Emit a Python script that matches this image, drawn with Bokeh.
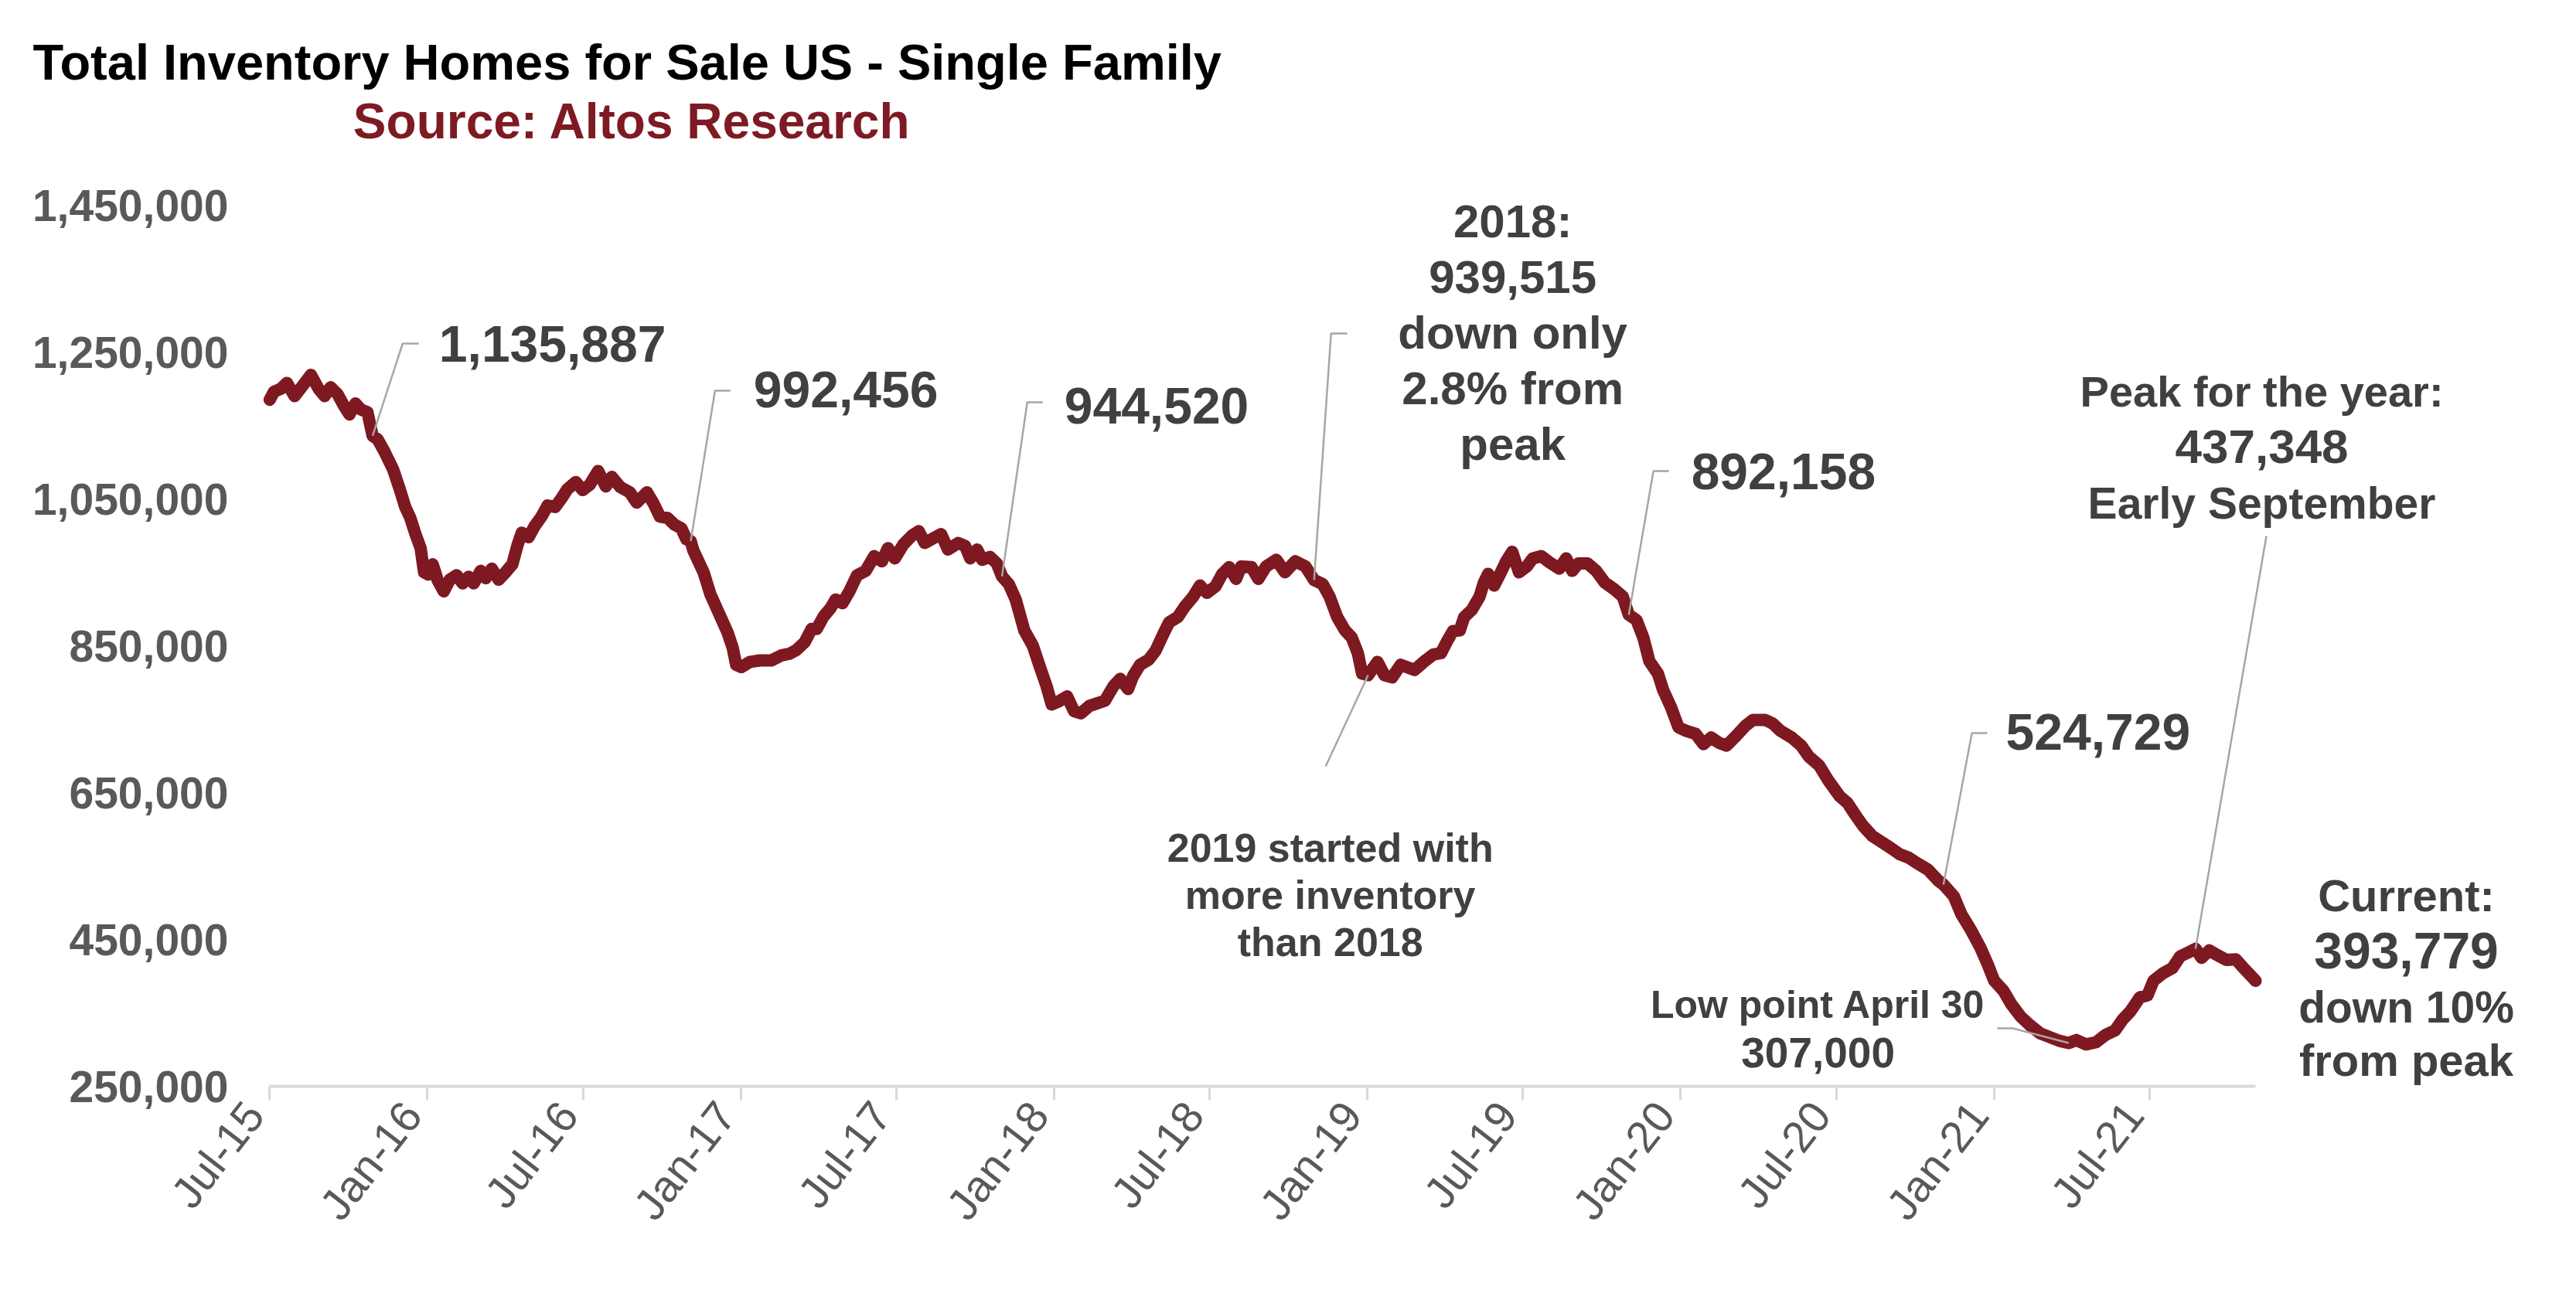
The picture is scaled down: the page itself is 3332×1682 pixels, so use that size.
import numpy as np
import pandas as pd
from bokeh.plotting import figure
from bokeh.models import Range1d, FixedTicker, NumeralTickFormatter, Label, InlineStyleSheet
from bokeh.embed import file_html
from bokeh.resources import INLINE

# ---------------- data ----------------
start_date = "2015-07-01"
end_date = "2021-11-02"

days_since_start = [
    0, 5, 13, 20, 29, 37, 48, 57, 64, 71, 79, 87, 93, 100, 106, 114, 120, 126, 134, 144,
    152, 158, 164, 170, 176, 180, 185, 190, 196, 203, 210, 218, 225, 232, 238, 246, 252, 259, 267, 275,
    283, 289, 294, 302, 309, 317, 324, 333, 341, 347, 357, 365, 373, 383, 392, 399, 409, 420, 428, 440,
    448, 455, 464, 472, 480, 486, 491, 494, 506, 514, 524, 534, 540, 544, 550, 560, 572, 585, 597,
    606, 614, 624, 632, 638, 646, 654, 660, 668, 676, 685, 695, 705, 714, 721, 729, 739, 749, 757, 764,
    775, 783, 791, 803, 811, 817, 825, 831, 840, 848, 854, 862, 870, 880, 890, 898, 906, 912, 920, 930,
    938, 946, 956, 966, 974, 984, 992, 1001, 1007, 1015, 1025, 1033, 1043, 1049, 1059, 1067, 1077, 1085, 1093,
    1103, 1111, 1119, 1127, 1133, 1145, 1153, 1162, 1174, 1184, 1196, 1208,
    1218, 1228, 1236, 1245, 1254, 1262, 1269, 1274, 1281, 1292, 1300, 1309, 1319, 1335, 1347, 1357, 1366,
    1373, 1380, 1388, 1393, 1402, 1411, 1416, 1421, 1428, 1435, 1442, 1449, 1457, 1466, 1473, 1483, 1492,
    1504, 1512, 1519, 1526, 1537, 1547, 1557, 1568, 1578, 1585, 1594, 1602, 1609, 1619,
    1625, 1634, 1643, 1652, 1663, 1672, 1681, 1690, 1699, 1710, 1721, 1730, 1744, 1753, 1762, 1775, 1786,
    1795, 1807, 1818, 1831, 1840, 1849, 1858, 1869, 1878, 1890, 1901, 1912, 1921, 1934, 1946, 1952, 1964,
    1973, 1984, 1995, 2004, 2011, 2022, 2031, 2042, 2053, 2065, 2076, 2087, 2098, 2107, 2118, 2130, 2141,
    2152, 2161, 2170, 2181, 2190, 2197, 2208, 2219, 2228, 2237, 2246, 2253, 2262, 2271, 2282, 2293, 2302,
    2311, 2316,
]

inventory = [
    1185000, 1196000, 1200000, 1208000, 1190000, 1202000, 1219000, 1200000, 1190000, 1202000,
    1193000, 1176000, 1165000, 1180000, 1172000, 1168000, 1135887, 1131000, 1114000, 1090000,
    1062000, 1039000, 1024000, 1002000, 983000, 950000, 947000, 961000, 939000, 924000,
    940000, 946000, 935000, 944000, 935000, 952000, 942000, 955000, 940000, 950000,
    961000, 987000, 1004000, 998000, 1013000, 1026000, 1041000, 1039000, 1052000, 1063000,
    1073000, 1062000, 1069000, 1088000, 1067000, 1080000, 1066000, 1059000, 1045000, 1059000,
    1043000, 1026000, 1024000, 1015000, 1010000, 995000, 992456, 980000, 950000, 920000,
    894000, 868000, 847000, 824000, 821000, 828000, 830000, 830000, 837000,
    839000, 844000, 855000, 873000, 873000, 890000, 901000, 913000, 908000, 924000,
    946000, 952000, 972000, 965000, 983000, 969000, 988000, 1000000, 1006000, 990000,
    997000, 1002000, 981000, 990000, 986000, 969000, 981000, 967000, 971000, 962000,
    944520, 934000, 913000, 871000, 850000, 822000, 795000, 770000, 774000, 781000,
    761000, 758000, 768000, 772000, 775000, 795000, 805000, 791000, 809000, 824000,
    831000, 843000, 868000, 882000, 889000, 903000, 917000, 932000, 922000,
    931000, 948000, 957000, 941000, 958000, 957000, 941000, 958000, 967000, 950000, 965000, 958000,
    939515, 934000, 917000, 889000, 871000, 861000, 840000, 812000, 810000, 828000,
    810000, 807000, 824000, 817000, 829000, 838000, 840000,
    856000, 870000, 871000, 889000, 899000, 917000, 936000, 948000, 932000, 948000,
    965000, 978000, 950000, 958000, 969000, 972000, 964000,
    955000, 969000, 952000, 962000, 962000, 952000, 936000, 927000, 917000, 892158,
    885000, 861000, 829000, 812000,
    790000, 767000, 739000, 734000, 730000, 716000, 725000, 718000, 714000, 727000,
    741000, 749000, 749000, 744000, 734000, 725000, 714000,
    699000, 687000, 666000, 645000, 636000, 620000, 605000, 591000, 584000, 575000,
    566000, 561000, 554000, 545000, 530000, 524729, 509000,
    484000, 463000, 439000, 415000, 394000, 380000, 362000, 345000, 333000, 322000,
    317000, 312000, 309000, 313000, 307000, 310000, 320000,
    326000, 341000, 352000, 371000, 374000, 394000, 404000, 411000, 427000, 432000,
    437348, 425000, 435000, 429000, 422000, 423000, 411000,
    400000, 393779,
]

tick_dates = ["2015-07-01", "2016-01-01", "2016-07-01", "2017-01-01", "2017-07-01",
              "2018-01-01", "2018-07-01", "2019-01-01", "2019-07-01", "2020-01-01",
              "2020-07-01", "2021-01-01", "2021-07-01"]
tick_labels = ["Jul-15", "Jan-16", "Jul-16", "Jan-17", "Jul-17", "Jan-18", "Jul-18",
               "Jan-19", "Jul-19", "Jan-20", "Jul-20", "Jan-21", "Jul-21"]
y_ticks = [250000, 450000, 650000, 850000, 1050000, 1250000, 1450000]

title_text = "Total Inventory Homes for Sale US - Single Family"
subtitle_text = "Source: Altos Research"

# ---------------- layout (page pixel positions) ----------------
W, H = 3322, 1680
AX_L, AX_R, AX_T, AX_B = 348, 2917, 265, 1405   # where the axes' extremes sit
FL, FR, FT, FB = 348, W, 123, 1405               # plotting frame
LABEL_NUDGE_PX = 20                               # Excel-style placement of the rotated labels

start = pd.Timestamp(start_date)
tick_days = [int((pd.Timestamp(t) - start).days) for t in tick_dates]
x_end = int((pd.Timestamp(end_date) - start).days)
px_day = (AX_R - AX_L) / x_end
px_val = (AX_B - AX_T) / (y_ticks[-1] - y_ticks[0])
x0 = 0 - (AX_L - FL) / px_day - 40
x1 = x_end + (FR - AX_R) / px_day
y0 = y_ticks[0] - (FB - AX_B) / px_val
y1 = y_ticks[-1] + (AX_T - FT) / px_val
FL_eff = FL - 40 * px_day   # frame grows left so the first nudged label fits


def xd(X):
    return x0 + (X - FL_eff) / px_day


def yd(Y):
    return y0 + (FB - Y) / px_val


def anchor(d):
    return d, float(np.interp(d, days_since_start, inventory))


p = figure(width=W, height=H, output_backend="svg", toolbar_location=None,
           x_range=Range1d(x0, x1), y_range=Range1d(y0, y1),
           min_border_left=int(round(FL_eff)), min_border_right=W - FR,
           min_border_top=FT, min_border_bottom=H - FB)
p.background_fill_color = "white"
p.border_fill_color = "white"
p.outline_line_color = None
p.xgrid.visible = False
p.ygrid.visible = False
p.stylesheets = [InlineStyleSheet(css=":host { outline: 3px solid #D9D9D9; outline-offset: -6px; }")]

LINE_COL = "#7E1921"
TXT = "#404040"
AX_TXT = "#595959"
LEAD = "#A6A6A6"
FONT = "Liberation Sans"

# title
p.title.text = title_text
p.title.align = "left"
p.title.offset = 47 - int(round(FL_eff)) - 5
p.title.standoff = 14
p.title.text_font = FONT
p.title.text_font_style = "bold"
p.title.text_font_size = "65px"
p.title.text_color = "#000000"

# y axis
p.yaxis.ticker = FixedTicker(ticks=y_ticks)
p.yaxis.formatter = NumeralTickFormatter(format="0,0")
p.yaxis.axis_line_color = None
p.yaxis.major_tick_line_color = None
p.yaxis.minor_tick_line_color = None
p.yaxis.major_label_standoff = int(48 - (FL - FL_eff))
p.yaxis.major_label_text_font = FONT
p.yaxis.major_label_text_font_style = "bold"
p.yaxis.major_label_text_font_size = "57px"
p.yaxis.major_label_text_color = AX_TXT

# x axis: tick marks at the dates (minor ticks), rotated labels nudged left like Excel
nudge = round(LABEL_NUDGE_PX / px_day)
label_pos = [d - nudge for d in tick_days]
p.xaxis.ticker = FixedTicker(ticks=label_pos, minor_ticks=tick_days)
p.xaxis.bounds = (0, x_end)
p.xaxis.major_label_overrides = {d: lab for d, lab in zip(label_pos, tick_labels)}
p.xaxis.axis_line_color = "#D9D9D9"
p.xaxis.axis_line_width = 4
p.xaxis.major_tick_line_color = None
p.xaxis.major_tick_out = 18
p.xaxis.major_tick_in = 0
p.xaxis.minor_tick_line_color = "#D9D9D9"
p.xaxis.minor_tick_line_width = 3
p.xaxis.minor_tick_out = 18
p.xaxis.minor_tick_in = 0
p.xaxis.major_label_orientation = 0.91
p.xaxis.major_label_standoff = 9
p.xaxis.major_label_text_font = FONT
p.xaxis.major_label_text_font_size = "57px"
p.xaxis.major_label_text_color = AX_TXT

# series
p.line(days_since_start, inventory, line_color=LINE_COL, line_width=16,
       line_join="round", line_cap="round")


def leader(points, d):
    ax, ay = anchor(d)
    xs = [xd(X) for X, _ in points] + [ax]
    ys = [yd(Y) for _, Y in points] + [ay]
    p.line(xs, ys, line_color=LEAD, line_width=2.5)


def text(t, X, Y, size, align="left", color=TXT, style="bold"):
    Yb = Y - (0.23 * size + 8)
    p.add_layout(Label(x=xd(X), y=yd(Yb), text=t, text_align=align,
                       text_baseline="alphabetic", text_font=FONT,
                       text_font_style=style, text_font_size=f"{size}px",
                       text_color=color))


# leader lines
leader([(541, 444), (520, 444)], 120)
leader([(944, 505), (924, 505)], 491)
leader([(1348, 520), (1328, 520)], 854)
leader([(1742, 431), (1721, 431)], 1218)
leader([(1714, 991)], 1281)
leader([(2158, 609), (2138, 609)], 1585)
leader([(2570, 948), (2550, 948)], 1952)
leader([(2583, 1330), (2603, 1330)], 2098)
leader([(2931, 693)], 2246)

# subtitle
text(subtitle_text, 456, 179, 64, color="#7E1A24")

# value callouts
text("1,135,887", 567, 468, 66)
text("992,456", 974, 527, 66)
text("944,520", 1376, 548, 66)
text("892,158", 2187, 633, 66)
text("524,729", 2594, 970, 66)

for t, Y in zip(["2018:", "939,515", "down only", "2.8% from", "peak"],
                [308, 380, 452, 524, 596]):
    text(t, 1956, Y, 60, align="center")

for t, Y in zip(["2019 started with", "more inventory", "than 2018"],
                [1116, 1177, 1238]):
    text(t, 1720, Y, 52, align="center")

for t, Y, s in zip(["Low point April 30", "307,000"], [1319, 1382], [50, 55]):
    text(t, 2351, Y, s, align="center")

for t, Y, s in zip(["Peak for the year:", "437,348", "Early September"],
                   [527, 600, 672], [56, 62, 57]):
    text(t, 2925, Y, s, align="center")

for t, Y, s in zip(["Current:", "393,779", "down 10%", "from peak"],
                   [1179, 1253, 1324, 1392], [58, 66, 57, 58]):
    text(t, 3112, Y, s, align="center")

open("out.html", "w").write(file_html(p, INLINE))
